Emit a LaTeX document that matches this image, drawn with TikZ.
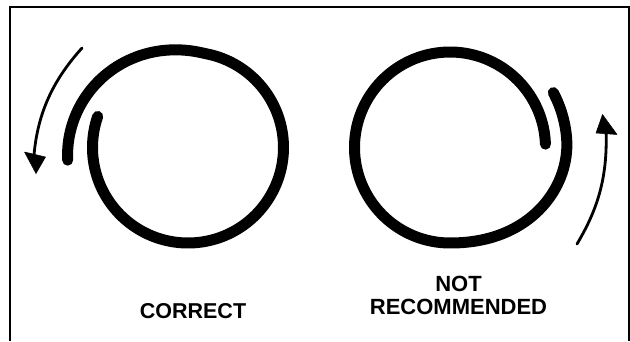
\documentclass[tikz,border=0pt]{standalone}
\usepackage{fontspec}
\setmainfont{Liberation Sans}
\tikzset{
  band/.style={line width=11pt,line cap=round,line join=round,black},
  thin arc/.style={line width=2.8pt,line cap=round,black},
  head/.style={fill=black,draw=black,line width=0.5pt,line join=round},
  frame/.style={line width=2pt,black},
  caption/.style={font=\bfseries\fontsize{21.5}{23}\selectfont,align=center,inner sep=0pt},
  caption wide/.style={caption,font=\bfseries\fontsize{22}{23}\selectfont},
  declare function={
    tl(\a)=min(1,max(0,(\a-80)/106));
    rl(\a)=95.5+25.5*(0.5*tl(\a)+0.5*tl(\a)*tl(\a)*(3-2*tl(\a)));
    tr(\a)=min(1,max(0,(\a-270)/95));
    rr(\a)=95.5+21.5*tr(\a)*tr(\a)*(3-2*tr(\a));
  }
}
\begin{document}
\begin{tikzpicture}[x=1pt,y=-1pt]
\useasboundingbox (0,0) rectangle (630,341);
\fill[white] (0,0) rectangle (630,341);
% frame
\draw[frame] (9.5,341) -- (9.5,6.5) -- (628.5,6.5) -- (628.5,341);
% left spiral
\draw[band] plot[domain=186:-199,samples=120,smooth] ({188+rl(\x)*cos(\x)},{147.5-rl(\x)*sin(\x)});
\draw[thin arc] (82,48) .. controls (55,78) and (38,110) .. (34,155);
\draw[head] (24.5,152) -- (45.5,157) -- (36,173.5) -- cycle;
\node[caption] (correct) at (193,311) {CORRECT};
% right spiral
\draw[band] plot[domain=2:388,samples=120,smooth] ({450+rr(\x)*cos(\x)},{147.5-rr(\x)*sin(\x)});
\draw[thin arc] (577,244) .. controls (596,212) and (608,180) .. (606,130);
\draw[head] (596,133) -- (617,134.5) -- (602.5,114.5) -- cycle;
\node[caption wide] (notrec) at (458.5,295) {NOT\\RECOMMENDED};
\end{tikzpicture}
\end{document}
